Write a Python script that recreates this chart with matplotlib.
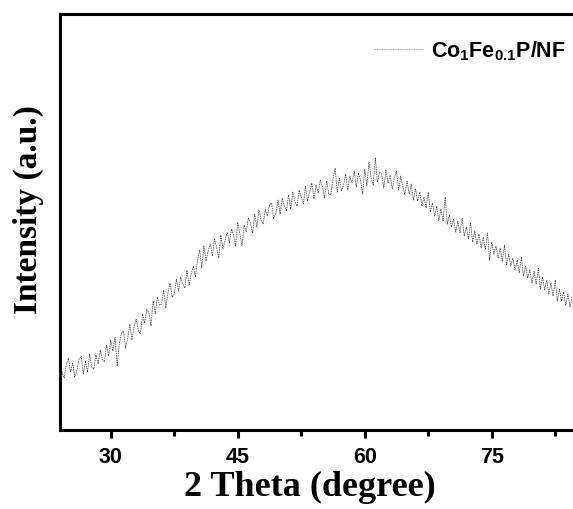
import numpy as np
import matplotlib
matplotlib.use("Agg")
import matplotlib.pyplot as plt
from matplotlib.ticker import MultipleLocator

# 2 theta from 24 to 84.5 deg, step 0.25 deg (a.u.)
two_theta_start = 24.0
two_theta_step = 0.25
intensity = [
    70, 57, 52, 66,   72, 58, 67, 53,   60, 71, 74, 56,   69, 58, 76, 63,        # 24-27
    61, 75, 66, 80,   71, 68, 85, 74,   90, 79, 93, 64,   86, 97, 99, 82,        # 28-31
    92, 106, 90, 103,  111, 100, 96, 116,  107, 121, 117, 104,  129, 116, 133, 125,  # 32-35
    126, 140, 122, 137,  147, 133, 136, 151,  139, 153, 146, 142,  160, 145, 156, 164,  # 36-39
    153, 170, 180, 162,  184, 169, 179, 186,  174, 191, 183, 172,  195, 181, 190, 198,  # 40-43
    187, 201, 195, 184,  208, 196, 184, 205,  198, 212, 207, 197,  216, 203, 220, 210,  # 44-47
    206, 221, 214, 225,  227, 211, 217, 230,  216, 232, 224, 219,  235, 221, 238, 229,  # 48-51
    224, 240, 233, 226,  244, 229, 238, 247,  231, 245, 237, 250,  244, 232, 249, 236,  # 52-55
    235, 251, 262, 238,  252, 239, 245, 256,  240, 254, 247, 259,  243, 257, 250, 236,  # 56-59
    261, 244, 268, 252,  245, 272, 248, 258,  256, 242, 260, 247,  255, 241, 252, 259,  # 60-63
    240, 254, 243, 235,  249, 236, 246, 230,  241, 229, 238, 224,  233, 222, 238, 218,  # 64-67
    227, 214, 224, 209,  221, 209, 233, 206,  215, 203, 211, 198,  209, 197, 212, 194,  # 68-71
    203, 191, 207, 188,  199, 186, 196, 182,  193, 181, 197, 170,  188, 176, 184, 172,  # 72-75
    182, 169, 185, 165,  176, 164, 172, 160,  170, 157, 173, 154,  164, 152, 160, 147,  # 76-79
    159, 146, 162, 141,  153, 140, 150, 136,  147, 134, 150, 129,  141, 129, 138, 125,  # 80-83
    136, 123, 134,                                                                    # 84
]
two_theta = two_theta_start + two_theta_step * np.arange(len(intensity))

x_ticks = [30, 45, 60, 75]
sample_label = "Co$_1$Fe$_{0.1}$P/NF"

plt.rcParams['mathtext.default'] = 'regular'

fig = plt.figure(figsize=(5.73, 5.09), dpi=100)
ax = fig.add_axes([0.1047, 0.155, 0.8953, 0.8175])

ax.plot(two_theta, intensity, color='#4a4a4a', lw=0.55,
        linestyle=(0, (2, 1)), label=sample_label)

ax.set_xlim(24, 84.6)
ax.set_ylim(0, 416)
ax.set_xticks(x_ticks)
ax.xaxis.set_minor_locator(MultipleLocator(7.5))
ax.set_yticks([])

for side in ['left', 'bottom', 'top']:
    ax.spines[side].set_linewidth(2.2)
ax.spines['right'].set_visible(False)

ax.tick_params(axis='x', which='major', direction='out', length=6, width=2.2,
               pad=6)
ax.tick_params(axis='x', which='minor', direction='out', length=4, width=2.2)
for lab in ax.get_xticklabels():
    lab.set_fontfamily('Liberation Sans')
    lab.set_fontweight('bold')
    lab.set_fontsize(15.5)

ax.set_xlabel("2 Theta (degree)", fontfamily='Liberation Serif',
              fontweight='bold', fontsize=26, va='center')
ax.xaxis.set_label_coords(0.487, -0.139)
ax.set_ylabel("Intensity (a.u.)", fontfamily='Liberation Serif',
              fontweight='bold', fontsize=24, va='center')
ax.yaxis.set_label_coords(-0.062, 0.53)

leg = ax.legend(loc='upper right', bbox_to_anchor=(1.0, 0.958), frameon=False,
                handlelength=2.3, handletextpad=0.35, borderaxespad=0,
                borderpad=0.35,
                prop={'family': 'Liberation Sans', 'weight': 'bold', 'size': 15.5})
leg.get_lines()[0].set_color('#909090')

fig.savefig("out.png", dpi=100)
